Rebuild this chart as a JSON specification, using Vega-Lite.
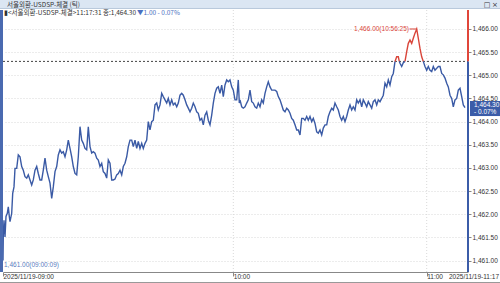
{
  "$schema": "https://vega.github.io/schema/vega-lite/v6.json",
  "width": 465,
  "height": 262,
  "padding": {"left": 3, "top": 10, "right": 32, "bottom": 11},
  "autosize": {"type": "none"},
  "background": "white",
  "config": {"view": {"stroke": null}, "font": "Liberation Sans"},
  "datasets": {
    "line": [
      {"t":3,"v":1461.00,"s":1},{"t":3.3,"v":1461.55,"s":1},{"t":4,"v":1461.87,"s":1},{"t":5,"v":1461.51,"s":1},{"t":6,"v":1461.95,"s":1},{"t":7.3,"v":1462.02,"s":1},{"t":8.3,"v":1462.16,"s":1},{"t":9.3,"v":1461.95,"s":1},{"t":10,"v":1461.84,"s":1},{"t":11.7,"v":1462.02,"s":1},{"t":12.7,"v":1462.45,"s":1},{"t":14,"v":1462.59,"s":1},{"t":15,"v":1462.99,"s":1},{"t":16.7,"v":1462.99,"s":1},{"t":18.3,"v":1463.28,"s":1},{"t":20,"v":1463.24,"s":1},{"t":21.7,"v":1463.03,"s":1},{"t":23.3,"v":1462.95,"s":1},{"t":25,"v":1462.81,"s":1},{"t":26.7,"v":1462.78,"s":1},{"t":28.3,"v":1462.85,"s":1},{"t":30,"v":1462.74,"s":1},{"t":31.7,"v":1462.63,"s":1},{"t":33.3,"v":1462.74,"s":1},{"t":35,"v":1462.95,"s":1},{"t":36.7,"v":1463.03,"s":1},{"t":38.3,"v":1462.88,"s":1},{"t":40,"v":1462.74,"s":1},{"t":41.7,"v":1462.74,"s":1},{"t":43.3,"v":1462.95,"s":1},{"t":45,"v":1463.21,"s":1},{"t":46.7,"v":1462.95,"s":1},{"t":48.3,"v":1462.81,"s":1},{"t":50,"v":1462.67,"s":1},{"t":51.7,"v":1462.34,"s":1},{"t":53.3,"v":1462.59,"s":1},{"t":55,"v":1462.92,"s":1},{"t":56.7,"v":1463.03,"s":1},{"t":58.3,"v":1463.28,"s":1},{"t":60,"v":1463.39,"s":1},{"t":61.7,"v":1463.32,"s":1},{"t":63.3,"v":1463.35,"s":1},{"t":65,"v":1463.24,"s":1},{"t":66.7,"v":1463.39,"s":1},{"t":68.3,"v":1463.60,"s":1},{"t":70,"v":1463.42,"s":1},{"t":71.7,"v":1463.24,"s":1},{"t":73.3,"v":1463.03,"s":1},{"t":75,"v":1462.88,"s":1},{"t":76.7,"v":1462.85,"s":1},{"t":78.3,"v":1463.24,"s":1},{"t":80,"v":1463.89,"s":1},{"t":81.7,"v":1463.60,"s":1},{"t":83.3,"v":1463.53,"s":1},{"t":85,"v":1463.42,"s":1},{"t":86.7,"v":1463.39,"s":1},{"t":88.3,"v":1463.89,"s":1},{"t":90,"v":1463.46,"s":1},{"t":91.7,"v":1463.32,"s":1},{"t":93.3,"v":1463.35,"s":1},{"t":95,"v":1463.32,"s":1},{"t":96.7,"v":1463.21,"s":1},{"t":98.3,"v":1463.17,"s":1},{"t":100,"v":1463.03,"s":1},{"t":101.7,"v":1463.10,"s":1},{"t":103.3,"v":1462.92,"s":1},{"t":105,"v":1462.88,"s":1},{"t":106.7,"v":1462.78,"s":1},{"t":108.3,"v":1463.17,"s":1},{"t":110,"v":1463.10,"s":1},{"t":111.7,"v":1462.74,"s":1},{"t":113.3,"v":1462.74,"s":1},{"t":115,"v":1462.76,"s":1},{"t":116.7,"v":1462.85,"s":1},{"t":118.3,"v":1462.88,"s":1},{"t":120,"v":1462.95,"s":1},{"t":121.7,"v":1462.85,"s":1},{"t":123.3,"v":1463.03,"s":1},{"t":125,"v":1463.10,"s":1},{"t":126.7,"v":1463.24,"s":1},{"t":128.3,"v":1463.46,"s":1},{"t":130,"v":1463.60,"s":1},{"t":131.7,"v":1463.60,"s":1},{"t":133.3,"v":1463.46,"s":1},{"t":135,"v":1463.60,"s":1},{"t":136.7,"v":1463.42,"s":1},{"t":138.3,"v":1463.57,"s":1},{"t":140,"v":1463.42,"s":1},{"t":141.7,"v":1463.53,"s":1},{"t":143.3,"v":1463.42,"s":1},{"t":145,"v":1463.53,"s":1},{"t":146.7,"v":1463.60,"s":1},{"t":148.3,"v":1464.00,"s":1},{"t":150,"v":1463.82,"s":1},{"t":151.7,"v":1464.00,"s":1},{"t":153.3,"v":1464.03,"s":1},{"t":155,"v":1464.36,"s":1},{"t":156.7,"v":1464.40,"s":1},{"t":158.3,"v":1464.25,"s":1},{"t":160,"v":1464.36,"s":1},{"t":161.7,"v":1464.61,"s":1},{"t":163.3,"v":1464.54,"s":1},{"t":165,"v":1464.47,"s":1},{"t":166.7,"v":1464.40,"s":1},{"t":168.3,"v":1464.50,"s":1},{"t":170,"v":1464.36,"s":1},{"t":171.7,"v":1464.47,"s":1},{"t":173.3,"v":1464.36,"s":1},{"t":175,"v":1464.40,"s":1},{"t":176.7,"v":1464.32,"s":1},{"t":178.3,"v":1464.40,"s":1},{"t":180,"v":1464.57,"s":1},{"t":181.7,"v":1464.61,"s":1},{"t":183.3,"v":1464.57,"s":1},{"t":185,"v":1464.47,"s":1},{"t":186.7,"v":1464.36,"s":1},{"t":188.3,"v":1464.29,"s":1},{"t":190,"v":1464.21,"s":1},{"t":191.7,"v":1464.29,"s":1},{"t":193.3,"v":1464.40,"s":1},{"t":195,"v":1464.32,"s":1},{"t":196.7,"v":1464.21,"s":1},{"t":198.3,"v":1464.18,"s":1},{"t":200,"v":1464.03,"s":1},{"t":201.7,"v":1464.07,"s":1},{"t":203.3,"v":1463.93,"s":1},{"t":205,"v":1464.14,"s":1},{"t":206.7,"v":1464.21,"s":1},{"t":208.3,"v":1464.03,"s":1},{"t":210,"v":1463.93,"s":1},{"t":211.7,"v":1464.14,"s":1},{"t":213.3,"v":1464.40,"s":1},{"t":215,"v":1464.61,"s":1},{"t":216.7,"v":1464.72,"s":1},{"t":218.3,"v":1464.75,"s":1},{"t":220,"v":1464.61,"s":1},{"t":221.7,"v":1464.79,"s":1},{"t":223.3,"v":1464.54,"s":1},{"t":225,"v":1464.79,"s":1},{"t":226.7,"v":1464.90,"s":1},{"t":228.3,"v":1464.86,"s":1},{"t":230,"v":1464.90,"s":1},{"t":231.7,"v":1464.75,"s":1},{"t":233.3,"v":1464.68,"s":1},{"t":235,"v":1464.47,"s":1},{"t":236.7,"v":1464.47,"s":1},{"t":238.3,"v":1464.90,"s":1},{"t":239.3,"v":1464.40,"s":1},{"t":240,"v":1464.47,"s":1},{"t":241.7,"v":1464.32,"s":1},{"t":243.3,"v":1464.29,"s":1},{"t":245,"v":1464.32,"s":1},{"t":246.7,"v":1464.40,"s":1},{"t":248.3,"v":1464.47,"s":1},{"t":250,"v":1464.68,"s":1},{"t":251.7,"v":1464.43,"s":1},{"t":253.3,"v":1464.40,"s":1},{"t":255,"v":1464.32,"s":1},{"t":256.7,"v":1464.29,"s":1},{"t":258.3,"v":1464.40,"s":1},{"t":260,"v":1464.32,"s":1},{"t":261.7,"v":1464.47,"s":1},{"t":263.3,"v":1464.40,"s":1},{"t":265,"v":1464.61,"s":1},{"t":266.7,"v":1464.75,"s":1},{"t":268.3,"v":1464.86,"s":1},{"t":270,"v":1464.75,"s":1},{"t":271.7,"v":1464.68,"s":1},{"t":273.3,"v":1464.68,"s":1},{"t":275,"v":1464.68,"s":1},{"t":276.7,"v":1464.65,"s":1},{"t":278.3,"v":1464.54,"s":1},{"t":280,"v":1464.47,"s":1},{"t":281.7,"v":1464.36,"s":1},{"t":283.3,"v":1464.25,"s":1},{"t":285,"v":1464.21,"s":1},{"t":286.7,"v":1464.29,"s":1},{"t":288.3,"v":1464.25,"s":1},{"t":290,"v":1464.18,"s":1},{"t":291.7,"v":1464.07,"s":1},{"t":293.3,"v":1464.03,"s":1},{"t":295,"v":1463.93,"s":1},{"t":296.7,"v":1463.82,"s":1},{"t":298.3,"v":1463.82,"s":1},{"t":300,"v":1463.71,"s":1},{"t":301.7,"v":1464.07,"s":1},{"t":303.3,"v":1464.07,"s":1},{"t":305,"v":1464.03,"s":1},{"t":306.7,"v":1464.11,"s":1},{"t":308.3,"v":1464.03,"s":1},{"t":310,"v":1464.11,"s":1},{"t":311.7,"v":1464.00,"s":1},{"t":313.3,"v":1464.07,"s":1},{"t":315,"v":1463.96,"s":1},{"t":316.7,"v":1463.78,"s":1},{"t":318.3,"v":1463.75,"s":1},{"t":320,"v":1463.82,"s":1},{"t":321.7,"v":1463.71,"s":1},{"t":323.3,"v":1463.86,"s":1},{"t":325,"v":1463.93,"s":1},{"t":326.7,"v":1463.93,"s":1},{"t":328.3,"v":1464.11,"s":1},{"t":330,"v":1464.21,"s":1},{"t":331.7,"v":1464.29,"s":1},{"t":333.3,"v":1464.25,"s":1},{"t":335,"v":1464.40,"s":1},{"t":336.7,"v":1464.32,"s":1},{"t":338.3,"v":1464.25,"s":1},{"t":340,"v":1464.11,"s":1},{"t":341.7,"v":1464.03,"s":1},{"t":343.3,"v":1464.11,"s":1},{"t":345,"v":1464.00,"s":1},{"t":346.7,"v":1464.11,"s":1},{"t":348.3,"v":1464.25,"s":1},{"t":350,"v":1464.36,"s":1},{"t":351.7,"v":1464.25,"s":1},{"t":353.3,"v":1464.32,"s":1},{"t":355,"v":1464.25,"s":1},{"t":356.7,"v":1464.47,"s":1},{"t":358.3,"v":1464.40,"s":1},{"t":360,"v":1464.47,"s":1},{"t":361.7,"v":1464.32,"s":1},{"t":363.3,"v":1464.47,"s":1},{"t":365,"v":1464.40,"s":1},{"t":366.7,"v":1464.32,"s":1},{"t":368.3,"v":1464.43,"s":1},{"t":370,"v":1464.36,"s":1},{"t":371.7,"v":1464.29,"s":1},{"t":373.3,"v":1464.43,"s":1},{"t":375,"v":1464.47,"s":1},{"t":376.7,"v":1464.36,"s":1},{"t":378.3,"v":1464.47,"s":1},{"t":380,"v":1464.43,"s":1},{"t":381.7,"v":1464.50,"s":1},{"t":383.3,"v":1464.57,"s":1},{"t":385,"v":1464.83,"s":1},{"t":386.7,"v":1464.75,"s":1},{"t":388.3,"v":1464.90,"s":1},{"t":390,"v":1464.79,"s":1},{"t":391.7,"v":1464.97,"s":1},{"t":393.3,"v":1465.04,"s":1},{"t":395,"v":1465.30,"s":1},
      {"t":395,"v":1465.30,"s":2},{"t":396.7,"v":1465.40,"s":2},{"t":398.3,"v":1465.40,"s":2},{"t":399.3,"v":1465.30,"s":2},
      {"t":399.3,"v":1465.30,"s":3},{"t":400,"v":1465.26,"s":3},{"t":401.7,"v":1465.19,"s":3},{"t":403.3,"v":1465.27,"s":3},{"t":405,"v":1465.30,"s":3},
      {"t":405,"v":1465.30,"s":4},{"t":406.7,"v":1465.51,"s":4},{"t":408.3,"v":1465.69,"s":4},{"t":410,"v":1465.76,"s":4},{"t":411.7,"v":1465.69,"s":4},{"t":413.3,"v":1465.80,"s":4},{"t":415,"v":1465.91,"s":4},{"t":416.7,"v":1466.00,"s":4},{"t":418.3,"v":1465.80,"s":4},{"t":420,"v":1465.58,"s":4},{"t":421.7,"v":1465.40,"s":4},{"t":423.3,"v":1465.30,"s":4},
      {"t":423.3,"v":1465.30,"s":5},{"t":425,"v":1465.19,"s":5},{"t":426.7,"v":1465.11,"s":5},{"t":428.3,"v":1465.19,"s":5},{"t":430,"v":1465.11,"s":5},{"t":431.7,"v":1465.08,"s":5},{"t":433.3,"v":1465.19,"s":5},{"t":435,"v":1465.11,"s":5},{"t":436.7,"v":1465.15,"s":5},{"t":438.3,"v":1465.19,"s":5},{"t":440,"v":1465.19,"s":5},{"t":441.7,"v":1465.04,"s":5},{"t":443.3,"v":1465.01,"s":5},{"t":445,"v":1464.94,"s":5},{"t":446.7,"v":1464.83,"s":5},{"t":448.3,"v":1464.75,"s":5},{"t":450,"v":1464.57,"s":5},{"t":451.7,"v":1464.50,"s":5},{"t":453.3,"v":1464.32,"s":5},{"t":455,"v":1464.47,"s":5},{"t":456.7,"v":1464.50,"s":5},{"t":458.3,"v":1464.68,"s":5},{"t":460,"v":1464.72,"s":5},{"t":461.7,"v":1464.54,"s":5},{"t":463.3,"v":1464.36,"s":5},{"t":465,"v":1464.30,"s":5}
    ]
  },
  "encoding": {
    "x": {"field": "t", "type": "quantitative",
      "scale": {"domain": [3, 468], "nice": false, "zero": false},
      "axis": {"values": [3, 233.3, 426.7],
        "labelExpr": "datum.value < 10 ? '2025/11/19-09:00' : datum.value < 300 ? '10:00' : '11:00'",
        "labelAlign": "left", "labelBaseline": "top", "labelPadding": -2.5, "labelDx": 2,
        "labelFontSize": 6.5, "labelColor": "#333", "labelFont": "Liberation Sans",
        "tickSize": 4, "tickColor": "#888", "domainColor": "#888", "grid": false, "title": null,
        "labelFlush": false, "labelOverlap": false, "labelBound": false}},
    "y": {"field": "v", "type": "quantitative",
      "scale": {"domain": [1460.752, 1466.41], "nice": false, "zero": false},
      "axis": {"orient": "right", "values": [1461, 1461.5, 1462, 1462.5, 1463, 1463.5, 1464, 1464.5, 1465, 1465.5, 1466],
        "format": ",.2f", "labelFontSize": 6.5, "labelColor": "#333", "labelFont": "Liberation Sans",
        "tickSize": 3, "tickColor": "#888", "labelPadding": 1, "domain": false,
        "grid": true, "gridColor": "#d9d9d9", "gridDash": [1, 2], "title": null, "labelOverlap": false, "labelBound": false}}
  },
  "layer": [
    {"data": {"values": [{"t": 0, "t2": 500, "v": 1466.626, "v2": 1466.443}]},
     "mark": {"type": "rect", "fill": "#dbe6f3"},
     "encoding": {"x2": {"field": "t2"}, "y2": {"field": "v2"}}},
    {"data": {"values": [{"t": 0, "t2": 500, "v": 1466.443}]},
     "mark": {"type": "rule", "stroke": "#b8c8dc", "strokeWidth": 1},
     "encoding": {"x2": {"field": "t2"}}},
    {"data": {"values": [{"t": 233.3, "v": 1460.752, "v2": 1466.41}, {"t": 426.7, "v": 1460.752, "v2": 1466.41}]},
     "mark": {"type": "rule", "stroke": "#d9d9d9", "strokeDash": [1, 2]},
     "encoding": {"y2": {"field": "v2"}}},
    {"data": {"values": [{"t": 3, "t2": 468, "v": 1465.3}]},
     "mark": {"type": "rule", "stroke": "#444", "strokeDash": [2, 2], "strokeWidth": 1},
     "encoding": {"x2": {"field": "t2"}}},
    {"data": {"name": "line"},
     "mark": {"type": "line", "strokeWidth": 1.4},
     "encoding": {"color": {"field": "s", "type": "nominal", "legend": null,
        "scale": {"domain": [1, 2, 3, 4, 5], "range": ["#3a5aa5", "#d9453a", "#3a5aa5", "#d9453a", "#3a5aa5"]}}}},
    {"data": {"values": [{"t": 468, "v": 1465.3, "v2": 1466.41}]},
     "mark": {"type": "rule", "stroke": "#e0463a", "strokeWidth": 2},
     "encoding": {"y2": {"field": "v2"}}},
    {"data": {"values": [{"t": 468, "v": 1460.752, "v2": 1465.3}]},
     "mark": {"type": "rule", "stroke": "#3b5ca8", "strokeWidth": 2},
     "encoding": {"y2": {"field": "v2"}}},
    {"data": {"values": [{"t": 1.5, "v": 1460.752, "v2": 1466.41}]},
     "mark": {"type": "rule", "stroke": "#4a6ab0", "strokeWidth": 3},
     "encoding": {"y2": {"field": "v2"}}},
    {"data": {"values": [{"t": 470, "t2": 500, "v": 1464.445, "v2": 1464.12}]},
     "mark": {"type": "rect", "fill": "#3b5ca8"},
     "encoding": {"x2": {"field": "t2"}, "y2": {"field": "v2"}}},
    {"data": {"values": [{"t": 474, "v": 1464.35, "label": "1,464.30"}, {"t": 474, "v": 1464.205, "label": "- 0.07%"}]},
     "mark": {"type": "text", "align": "left", "baseline": "middle", "fontSize": 6.5, "font": "Liberation Sans", "color": "white"},
     "encoding": {"text": {"field": "label"}}},
    {"data": {"values": [{"t": 409, "v": 1466.0, "label": "1,466.00(10:56:25)"}]},
     "mark": {"type": "text", "align": "right", "baseline": "middle", "fontSize": 6.5, "font": "Liberation Sans", "color": "#d9453a"},
     "encoding": {"text": {"field": "label"}}},
    {"data": {"values": [{"t": 409.5, "t2": 416.7, "v": 1466.0}]},
     "mark": {"type": "rule", "stroke": "#d9453a", "strokeWidth": 1},
     "encoding": {"x2": {"field": "t2"}}},
    {"data": {"values": [{"t": 4, "v": 1460.903, "label": "1,461.00(09:00:09)"}]},
     "mark": {"type": "text", "align": "left", "baseline": "middle", "fontSize": 6.5, "font": "Liberation Sans", "color": "#5a7cc0"},
     "encoding": {"text": {"field": "label"}}},
    {"data": {"values": [{"t": 7, "v": 1466.52, "label": "서울외환-USDSP-체결 (틱)"}]},
     "mark": {"type": "text", "align": "left", "baseline": "middle", "fontSize": 6.5, "font": "Noto Sans CJK KR", "color": "#333"},
     "encoding": {"text": {"field": "label"}}},
    {"data": {"values": [{"t": 4, "v": 1466.335, "label": "▮<서울외환-USDSP-체결>11:17:31 종:1,464.30"}]},
     "mark": {"type": "text", "align": "left", "baseline": "middle", "fontSize": 6.5, "font": "Noto Sans CJK KR", "color": "#333"},
     "encoding": {"text": {"field": "label"}}},
    {"data": {"values": [{"t": 137, "v": 1466.335, "label": "▼1.00  - 0.07%"}]},
     "mark": {"type": "text", "align": "left", "baseline": "middle", "fontSize": 6.5, "font": "Noto Sans CJK KR", "color": "#4a6fc0"},
     "encoding": {"text": {"field": "label"}}},
    {"data": {"values": [{"t": 487, "v": 1466.52, "label": "□"}, {"t": 495, "v": 1466.52, "label": "×"}]},
     "mark": {"type": "text", "align": "center", "baseline": "middle", "fontSize": 7, "font": "DejaVu Sans", "color": "#333"},
     "encoding": {"text": {"field": "label"}}},
    {"data": {"values": [{"t": 499, "v": 1460.644, "label": "2025/11/19-11:17"}]},
     "mark": {"type": "text", "align": "right", "baseline": "middle", "fontSize": 6.5, "font": "Liberation Sans", "color": "#333"},
     "encoding": {"text": {"field": "label"}}},
    {"data": {"values": [{"t": 0, "t2": 500, "v": 1460.525}]},
     "mark": {"type": "rule", "stroke": "#999", "strokeWidth": 1},
     "encoding": {"x2": {"field": "t2"}}}
  ]
}
